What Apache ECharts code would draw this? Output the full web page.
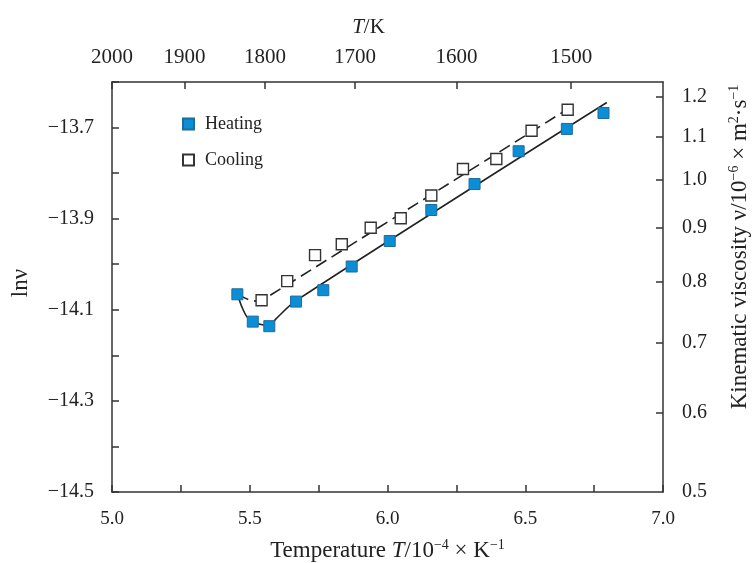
<!DOCTYPE html>
<html>
<head>
<meta charset="utf-8">
<script src="https://cdn.jsdelivr.net/npm/echarts@6/dist/echarts.min.js"></script>
<style>html,body{margin:0;padding:0;background:#fff}#c{width:755px;height:563px}</style>
</head>
<body>
<div id="c"></div>
<script>
// ---- data (x = 1/T in 10^-4 K^-1, y = ln ν) ----
const heatX = [5.455, 5.511, 5.571, 5.668, 5.767, 5.870, 6.008, 6.159, 6.316, 6.476, 6.651, 6.784];
const heatY = [-14.066, -14.126, -14.136, -14.082, -14.057, -14.005, -13.949, -13.881, -13.824, -13.752, -13.703, -13.668];
const coolX = [5.543, 5.636, 5.737, 5.834, 5.939, 6.048, 6.159, 6.274, 6.395, 6.523, 6.654];
const coolY = [-14.079, -14.037, -13.980, -13.956, -13.920, -13.899, -13.849, -13.791, -13.769, -13.707, -13.661];
// fitted curves
const heatFitX = [5.455, 5.471, 5.489, 5.511, 5.545, 5.574, 5.595, 5.668, 6.796];
const heatFitY = [-14.066, -14.093, -14.115, -14.126, -14.133, -14.134, -14.120, -14.080, -13.645];
const coolFitX = [5.455, 5.4685, 5.501, 5.530, 5.559, 6.681];
const coolFitY = [-14.066, -14.070, -14.079, -14.081, -14.074, -13.649];
// tick labels
const bottomLabels = [5.0, 5.5, 6.0, 6.5, 7.0];
const leftLabels = [-14.5, -14.3, -14.1, -13.9, -13.7];
const topTempLabels = [2000, 1900, 1800, 1700, 1600, 1500];
const rightViscLabels = [0.5, 0.6, 0.7, 0.8, 0.9, 1.0, 1.1, 1.2];

const zip = (a, b) => a.map((v, i) => [v, b[i]]);
const FONT = 'Liberation Serif';
const YMIN = -14.5, YMAX = -13.6;
const rightPos = rightViscLabels.map(v => Math.max(YMIN, Math.log(v * 1e-6)));
const topPos = topTempLabels.map(t => 1e4 / t);
const axisLine = {show: true, lineStyle: {color: '#333', width: 1.5}};
const tick = {show: true, inside: true, length: 7, lineStyle: {color: '#333', width: 1.5}};
const lab = {fontFamily: FONT, fontSize: 19, color: '#222'};
const sup = {fontFamily: FONT, fontSize: 14, color: '#222', padding: [0, 0, 11, 0]};
const nm = {fontFamily: FONT, fontSize: 23, color: '#222'};
const it = {fontFamily: FONT, fontSize: 23, color: '#222', fontStyle: 'italic'};

const chart = echarts.init(document.getElementById('c'));
chart.setOption({
  animation: false,
  backgroundColor: '#fff',
  grid: {left: 112, right: 92, top: 82, bottom: 71, containLabel: false, outerBoundsMode: 'none'},
  legend: {
    orient: 'vertical', left: 177, top: 110, itemGap: 18, padding: 5,
    itemWidth: 11, itemHeight: 11,
    textStyle: {fontFamily: FONT, fontSize: 18, color: '#222', padding: [0, 0, 0, 6]},
    data: ['Heating', 'Cooling']
  },
  xAxis: [{
    type: 'value', min: 5, max: 7, interval: 0.25, position: 'bottom',
    axisLine, axisTick: tick, splitLine: {show: false},
    axisLabel: Object.assign({margin: 18, customValues: bottomLabels, formatter: v => v.toFixed(1)}, lab),
    name: 'Temperature {i|T}/10{s|−4} × K{s|−1}', nameLocation: 'middle', nameGap: 46,
    nameTextStyle: Object.assign({rich: {i: it, s: sup}}, nm)
  }, {
    type: 'value', min: 5, max: 7, position: 'top',
    axisLine, splitLine: {show: false},
    axisTick: Object.assign({customValues: topPos}, tick),
    axisLabel: Object.assign({margin: 14, customValues: topPos, formatter: v => String(Math.round(1e4 / v))}, lab, {fontSize: 21}),
    name: '{i|T}/K', nameLocation: 'middle', nameGap: 44,
    nameTextStyle: Object.assign({rich: {i: Object.assign({}, it, {fontSize: 21})}, padding: [0, 38, 0, 0]}, nm, {fontSize: 21})
  }],
  yAxis: [{
    type: 'value', min: YMIN, max: YMAX, interval: 0.1, position: 'left',
    axisLine, axisTick: tick, splitLine: {show: false},
    axisLabel: Object.assign({margin: 18, customValues: leftLabels, formatter: v => v.toFixed(1).replace('-', '−')}, lab, {fontSize: 20}),
    name: 'lnν', nameLocation: 'middle', nameGap: 80, nameRotate: 90,
    nameTextStyle: Object.assign({padding: [0, 0, 0, 8]}, nm)
  }, {
    type: 'value', min: YMIN, max: YMAX, position: 'right',
    axisLine, splitLine: {show: false},
    axisTick: Object.assign({customValues: rightPos.slice(1)}, tick),
    axisLabel: Object.assign({margin: 19, customValues: rightPos, formatter: v => (Math.exp(v) * 1e6).toFixed(1)}, lab, {fontSize: 20}),
    name: 'Kinematic viscosity ν/10{s|−6} × m{s|2}·s{s|−1}', nameLocation: 'middle', nameGap: 64, nameRotate: 90,
    nameTextStyle: Object.assign({rich: {s: sup}, padding: [0, 0, 0, 80]}, nm)
  }],
  series: [{
    name: 'HeatFit', type: 'line', data: zip(heatFitX, heatFitY), showSymbol: false, smooth: 0.3,
    lineStyle: {color: '#222', width: 1.6}, silent: true, z: 1
  }, {
    name: 'CoolFit', type: 'line', data: zip(coolFitX, coolFitY), showSymbol: false, smooth: 0.3,
    lineStyle: {color: '#222', width: 1.6, type: [12, 6]}, silent: true, z: 1
  }, {
    name: 'Heating', type: 'scatter', data: zip(heatX, heatY), symbol: 'rect', symbolSize: 11,
    itemStyle: {color: '#0a8ed6', borderColor: '#1e6b9c', borderWidth: 1, opacity: 1}, z: 3
  }, {
    name: 'Cooling', type: 'scatter', data: zip(coolX, coolY), symbol: 'rect', symbolSize: 11,
    itemStyle: {color: '#fff', borderColor: '#333', borderWidth: 1.4, opacity: 1}, z: 3
  }]
});
</script>
</body>
</html>
